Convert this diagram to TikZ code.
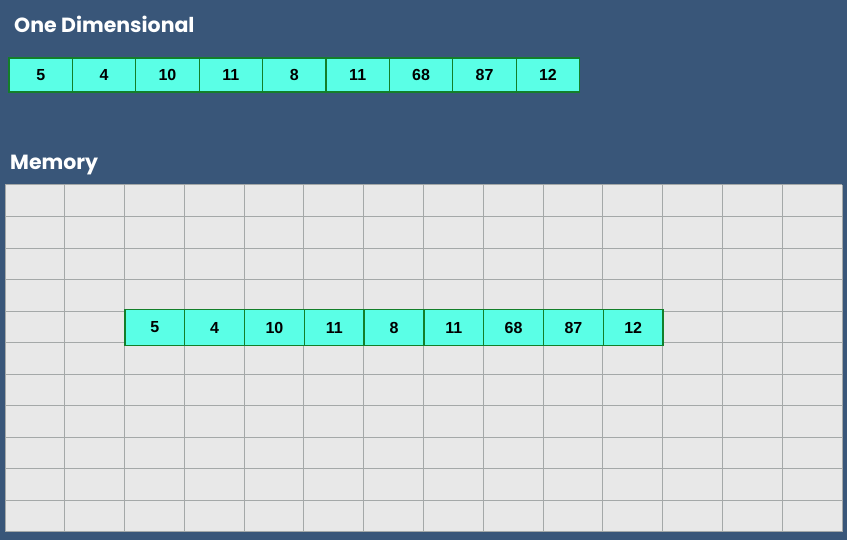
\documentclass[tikz,border=0pt]{standalone}
\usepackage{fontspec}
\newfontfamily\titlefont{Poppins}
\newfontfamily\numfont{Liberation Sans}
\definecolor{bg}{HTML}{395679}
\definecolor{cellfill}{HTML}{5AFFE6}
\definecolor{cellline}{HTML}{137F2A}
\definecolor{gridfill}{HTML}{E8E8E8}
\definecolor{gridline}{HTML}{A4A8A8}
\tikzset{
  title/.style={anchor=base west, text=white, font=\titlefont\bfseries\fontsize{20.5}{24}\selectfont, inner sep=0pt},
  cell/.style={draw=cellline, line width=1.3pt, fill=cellfill, minimum width=63.4pt, minimum height=34pt, inner sep=0pt, font=\numfont\bfseries\fontsize{16}{18}\selectfont, text=black},
  memcell/.style={draw=cellline, line width=1.3pt, fill=cellfill, minimum width=59.8pt, minimum height=36pt, inner sep=0pt, font=\numfont\bfseries\fontsize{16}{18}\selectfont, text=black},
}
\begin{document}
\begin{tikzpicture}[x=1pt,y=-1pt]
\useasboundingbox (0,0) rectangle (847,540);
\fill[bg] (0,0) rectangle (847,540);
\node[title] (t1) at (14,33) {One Dimensional};
\node[title] (t2) at (10,170) {Memory};
% top array
\foreach \v [count=\i from 0] in {5,4,10,11,8,11,68,87,12} {
  \node[cell] (a\i) at ({9+31.7+63.4*\i},75) {\v};
}
% memory grid
\fill[gridfill] (5,185) rectangle (842,532);
\foreach \k in {0,...,14} {
  \draw[gridline, line width=1pt] ({5+59.786*\k},185) -- ({5+59.786*\k},532);
}
\foreach \k in {0,...,11} {
  \draw[gridline, line width=1pt] (5,{185+31.545*\k}) -- (842,{185+31.545*\k});
}
% memory array
\foreach \v [count=\i from 0] in {5,4,10,11,8,11,68,87,12} {
  \node[memcell] (m\i) at ({125+29.9+59.786*\i},327.5) {\v};
}
\end{tikzpicture}
\end{document}
